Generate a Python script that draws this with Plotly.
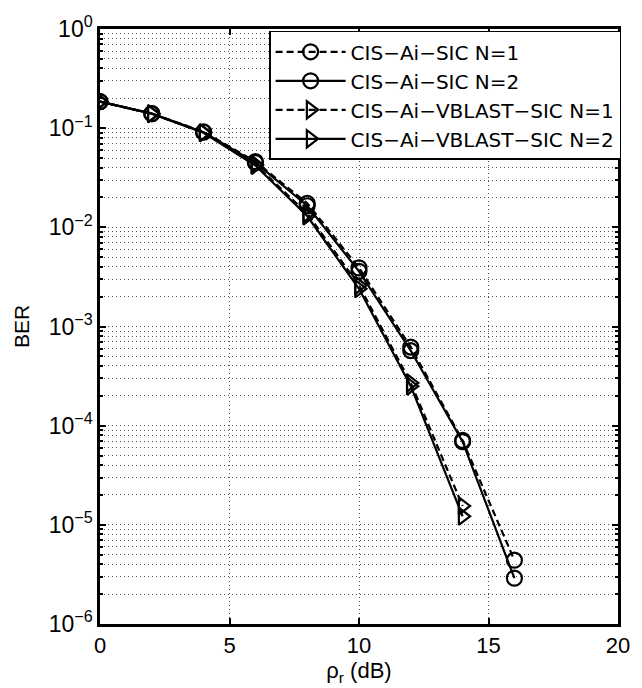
import plotly.graph_objects as go

# SNR points (dB)
snr_db = [0, 2, 4, 6, 8, 10, 12, 14, 16]
snr_db_vblast = [0, 2, 4, 6, 8, 10, 12, 14]

# Bit error rates
ber_sic_n1 = [0.185, 0.14, 0.092, 0.046, 0.0175, 0.0039, 0.00062, 7.1e-5, 4.4e-6]
ber_sic_n2 = [0.185, 0.14, 0.091, 0.045, 0.0165, 0.0036, 0.00057, 6.9e-5, 2.9e-6]
ber_vblast_n1 = [0.185, 0.14, 0.090, 0.043, 0.0138, 0.0026, 0.00027, 1.55e-5]
ber_vblast_n2 = [0.185, 0.14, 0.090, 0.042, 0.0130, 0.0024, 0.00025, 1.22e-5]

series_names = [
    "CIS\u2212Ai\u2212SIC N=1",
    "CIS\u2212Ai\u2212SIC N=2",
    "CIS\u2212Ai\u2212VBLAST\u2212SIC N=1",
    "CIS\u2212Ai\u2212VBLAST\u2212SIC N=2",
]

x_ticks = [0, 5, 10, 15, 20]
y_exponents = [-6, -5, -4, -3, -2, -1, 0]

FONT = "Liberation Sans, Arial, sans-serif"
LEGEND_FONT = "DejaVu Sans, sans-serif"
DASH = "7px,4px"

fig = go.Figure()

specs = [
    (snr_db, ber_sic_n1, series_names[0], DASH, "circle-open"),
    (snr_db, ber_sic_n2, series_names[1], "solid", "circle-open"),
    (snr_db_vblast, ber_vblast_n1, series_names[2], DASH, "triangle-right-open"),
    (snr_db_vblast, ber_vblast_n2, series_names[3], "solid", "triangle-right-open"),
]
for xs, ys, name, dash, sym in specs:
    fig.add_trace(go.Scatter(
        x=xs, y=ys, name=name, mode="lines+markers",
        line=dict(color="black", width=2.2, dash=dash),
        marker=dict(symbol=sym, size=15, color="black",
                    line=dict(color="black", width=2.2)),
    ))

grid_color = "#555555"
grid_dash = "1px,3px"

minor_y = [k * 10.0 ** e for e in range(-6, 0) for k in range(2, 10)]

fig.update_xaxes(
    range=[0, 20], tickvals=x_ticks, ticktext=[str(v) for v in x_ticks],
    ticks="inside", ticklen=6, tickwidth=1.5, tickcolor="black",
    showline=True, linecolor="black", linewidth=2.5, mirror="ticks",
    showgrid=True, gridcolor=grid_color, griddash=grid_dash, gridwidth=1,
    zeroline=False,
    tickfont=dict(family=FONT, size=22, color="black"),
    title=dict(text="\u03c1<sub>r</sub> (dB)", standoff=2,
               font=dict(family=FONT, size=22, color="black")),
)
fig.update_yaxes(
    type="log", range=[-6, 0],
    tickvals=[10.0 ** e for e in y_exponents],
    ticktext=["10<sup>%s</sup>" % (str(e).replace("-", "\u2212")) for e in y_exponents],
    ticks="inside", ticklen=6, tickwidth=1.5, tickcolor="black",
    showline=True, linecolor="black", linewidth=2.5, mirror="ticks",
    showgrid=True, gridcolor=grid_color, griddash=grid_dash, gridwidth=1,
    minor=dict(tickvals=minor_y, ticks="inside", ticklen=3, tickcolor="black",
               showgrid=True, gridcolor=grid_color, griddash=grid_dash, gridwidth=1),
    zeroline=False,
    tickfont=dict(family=FONT, size=23, color="black"),
    title=dict(text="BER", standoff=14,
               font=dict(family=FONT, size=21, color="black")),
)

fig.update_layout(
    width=642, height=688,
    margin=dict(l=100, r=15, t=27, b=50),
    plot_bgcolor="white", paper_bgcolor="white",
    font=dict(family=FONT, color="black"),
    legend=dict(
        x=1.006, y=0.997, xanchor="right", yanchor="top",
        bgcolor="white", bordercolor="black", borderwidth=1.5,
        font=dict(family=LEGEND_FONT, size=20, color="black"),
        itemwidth=70, tracegroupgap=0,
    ),
)

fig.write_html("out.html")
